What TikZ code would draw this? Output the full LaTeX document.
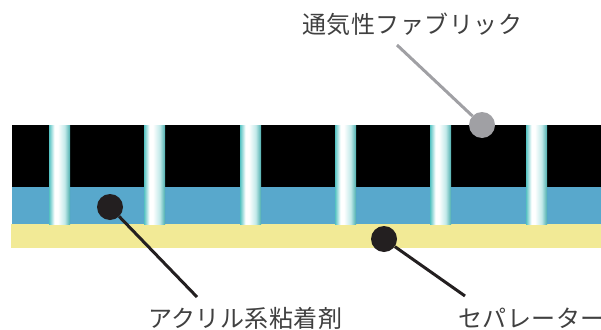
\documentclass[tikz,border=0pt]{standalone}
\usepackage{fontspec}
\newfontfamily\jpfont{Noto Sans CJK JP}[LetterSpace=2]
\definecolor{glue}{HTML}{58A8CC}
\definecolor{liner}{HTML}{F2EA96}
\definecolor{pteal}{HTML}{55C2C2}
\definecolor{fabgray}{HTML}{A0A0A4}
\definecolor{dotblack}{HTML}{231F20}
\definecolor{labelgray}{HTML}{404040}
\pgfdeclarehorizontalshading{pillar}{100bp}{color(0bp)=(pteal); color(25bp)=(pteal); color(38bp)=(white); color(46bp)=(white); color(62bp)=(pteal!35); color(75bp)=(pteal!90!black); color(100bp)=(pteal!90!black)}
\begin{document}
\begin{tikzpicture}[x=1pt,y=-1pt,
    dot/.style={circle, fill=#1, minimum size=26pt, inner sep=0pt},
    leader/.style={draw=#1, line width=3pt},
    label/.style={font=\jpfont\fontsize{24}{24}\selectfont, text=labelgray, inner sep=0pt, anchor=west}]
\useasboundingbox (0,0) rectangle (601,329);
% layers
\fill[black] (12,125) rectangle (601,187);
\fill[glue] (12,187) rectangle (601,224);
\fill[liner] (11,224) rectangle (601,248);
\foreach \x in {49,144,240,335,430,526}
    \shade[shading=pillar] (\x,125) rectangle ++(21,99);
% labels
\node[label] (fablabel) at (302,24) {通気性ファブリック};
\node[label] (gluelabel) at (148,318) {アクリル系粘着剤};
\node[label] (linerlabel) at (458,318) {セパレーター};
\coordinate (fabend) at (397,45);
\coordinate (glueend) at (197,297);
\coordinate (linerend) at (465,296);
% dots
\node[dot=fabgray] (fabdot) at (482,125) {};
\node[dot=dotblack] (gluedot) at (110,207) {};
\node[dot=dotblack] (linerdot) at (384,239) {};
\draw[leader=fabgray] (fabend) -- (fabdot);
\draw[leader=dotblack] (glueend) -- (gluedot);
\draw[leader=dotblack] (linerend) -- (linerdot);
\end{tikzpicture}
\end{document}
